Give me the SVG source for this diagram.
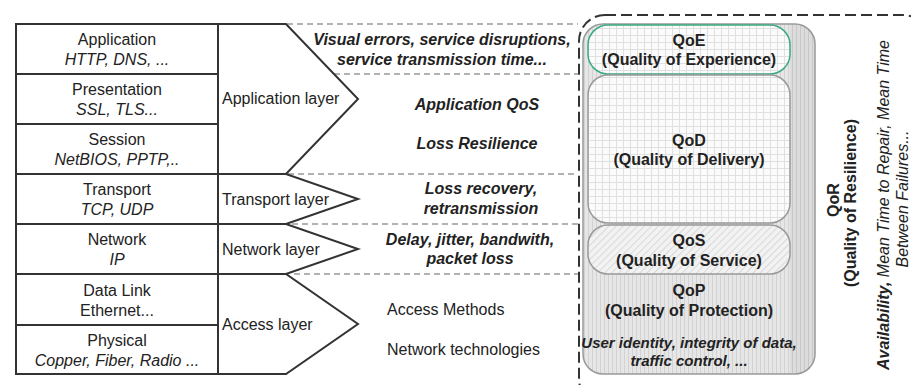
<svg xmlns="http://www.w3.org/2000/svg" width="911" height="385" viewBox="0 0 911 385">
<defs>
<pattern id="stripes" width="4" height="8" patternUnits="userSpaceOnUse">
<rect width="4" height="8" fill="#e6e6e6"/>
<line x1="0.5" y1="0" x2="0.5" y2="8" stroke="#d2d2d2" stroke-width="1"/>
</pattern>
<pattern id="stripes2" width="4" height="8" patternUnits="userSpaceOnUse">
<rect width="4" height="8" fill="#dcdcdc"/>
<line x1="0.5" y1="0" x2="0.5" y2="8" stroke="#c8c8c8" stroke-width="1"/>
</pattern>
<pattern id="grid" width="7" height="7" patternUnits="userSpaceOnUse">
<rect width="7" height="7" fill="#fbfbfb"/>
<path d="M0 0.5H7M0.5 0V7" stroke="#e0e0e0" stroke-width="1" fill="none"/>
</pattern>
<pattern id="hatch" width="5" height="5" patternUnits="userSpaceOnUse" patternTransform="rotate(45)">
<rect width="5" height="5" fill="#f2f2f2"/>
<line x1="0" y1="0" x2="0" y2="5" stroke="#c8c8c8" stroke-width="1.2"/>
</pattern>
<clipPath id="qopclip"><rect x="583" y="24" width="232" height="350" rx="20"/></clipPath>
</defs>
<style>
text{font-family:"Liberation Sans",Arial,sans-serif;font-size:16px;fill:#222}
.c{text-anchor:middle}
.i{font-style:italic}
.b{font-weight:bold}
.bi{font-weight:bold;font-style:italic}
.s15{font-size:15px}
.cell{fill:#fff;stroke:#333;stroke-width:2}
.chev{fill:#fff;stroke:#333;stroke-width:2;stroke-linejoin:miter}
.dash{stroke:#999;stroke-width:1.5;stroke-dasharray:6 4;fill:none}
.box{stroke:#999;stroke-width:1.5}
</style>

<g id="osi-table">
<rect class="cell" x="16" y="24" width="202" height="350"/>
<g id="row-application"><text class="c" x="117" y="45">Application</text><text class="c i" x="117" y="65">HTTP, DNS, ...</text></g>
<g id="row-presentation"><line x1="16" y1="74" x2="218" y2="74" stroke="#333" stroke-width="2"/><text class="c" x="117" y="95">Presentation</text><text class="c i" x="117" y="115">SSL, TLS...</text></g>
<g id="row-session"><line x1="16" y1="124" x2="218" y2="124" stroke="#333" stroke-width="2"/><text class="c" x="117" y="145">Session</text><text class="c i" x="117" y="165">NetBIOS, PPTP,..</text></g>
<g id="row-transport"><line x1="16" y1="174" x2="218" y2="174" stroke="#333" stroke-width="2"/><text class="c" x="117" y="195">Transport</text><text class="c i" x="117" y="215">TCP, UDP</text></g>
<g id="row-network"><line x1="16" y1="224" x2="218" y2="224" stroke="#333" stroke-width="2"/><text class="c" x="117" y="245">Network</text><text class="c i" x="117" y="265">IP</text></g>
<g id="row-datalink"><line x1="16" y1="274" x2="218" y2="274" stroke="#333" stroke-width="2"/><text class="c" x="117" y="296">Data Link</text><text class="c" x="117" y="316">Ethernet...</text></g>
<g id="row-physical"><line x1="16" y1="325" x2="218" y2="325" stroke="#333" stroke-width="2"/><text class="c" x="117" y="346">Physical</text><text class="c i" x="117" y="366">Copper, Fiber, Radio ...</text></g>
</g>

<g id="qor-frame">
<rect x="579" y="15" width="350" height="390" rx="26" fill="none" stroke="#333" stroke-width="2" stroke-dasharray="11 5"/>
</g>

<g id="connectors">
<line class="dash" x1="287" y1="24" x2="578" y2="24"/>
<line class="dash" x1="334" y1="74" x2="578" y2="74"/>
<line class="dash" x1="288" y1="174" x2="578" y2="174"/>
<line class="dash" x1="292" y1="224" x2="578" y2="224"/>
<line class="dash" x1="294" y1="274" x2="578" y2="274"/>
</g>

<g id="layer-application">
<path class="chev" d="M218 24H286L358 99L286 174H218Z"/>
<text x="222" y="104">Application layer</text>
</g>
<g id="layer-transport">
<path class="chev" d="M218 174H286L358 199L286 224H218Z"/>
<text x="222" y="205">Transport layer</text>
</g>
<g id="layer-network">
<path class="chev" d="M218 224H286L358 249L286 274H218Z"/>
<text x="222" y="255">Network layer</text>
</g>
<g id="layer-access">
<path class="chev" d="M218 274H286L358 324L286 374H218Z"/>
<text x="222" y="330">Access layer</text>
</g>

<g id="metrics">
<text class="c bi" x="442" y="45">Visual errors, service disruptions,</text>
<text class="c bi" x="442" y="65">service transmission time...</text>
<text class="c bi" x="477" y="110">Application QoS</text>
<text class="c bi" x="477" y="149">Loss Resilience</text>
<text class="c bi" x="481" y="194">Loss recovery,</text>
<text class="c bi" x="481" y="214">retransmission</text>
<text class="c bi" x="470" y="245">Delay, jitter, bandwith,</text>
<text class="c bi" x="470" y="264">packet loss</text>
<text x="387" y="315">Access Methods</text>
<text x="387" y="355">Network technologies</text>
</g>

<g id="qop">
<rect x="583" y="24" width="232" height="350" rx="20" fill="url(#stripes)"/>
<rect x="790" y="24" width="30" height="350" fill="url(#stripes2)" clip-path="url(#qopclip)"/>
<rect class="box" x="583" y="24" width="232" height="350" rx="20" fill="none"/>
<text class="c b" x="689" y="296">QoP</text>
<text class="c b" x="689" y="316">(Quality of Protection)</text>
<text class="c bi s15" x="689" y="348">User identity, integrity of data,</text>
<text class="c bi s15" x="689" y="366">traffic control, ...</text>
</g>
<g id="qoe">
<rect x="588" y="25" width="202" height="49" rx="20" fill="url(#grid)" stroke="#3aaa80" stroke-width="1.5"/>
<text class="c b" x="689" y="46">QoE</text>
<text class="c b" x="689" y="65">(Quality of Experience)</text>
</g>
<g id="qod">
<rect class="box" x="588" y="75" width="202" height="148" rx="20" fill="url(#grid)"/>
<text class="c b" x="689" y="146">QoD</text>
<text class="c b" x="689" y="165">(Quality of Delivery)</text>
</g>
<g id="qos">
<rect class="box" x="588" y="225" width="202" height="49" rx="20" fill="url(#hatch)"/>
<text class="c b" x="689" y="246">QoS</text>
<text class="c b" x="689" y="266">(Quality of Service)</text>
</g>

<g id="qor">
<text class="c b" transform="translate(839 200) rotate(-90)">QoR</text>
<text class="c b" transform="translate(856 203) rotate(-90)">(Quality of Resilience)</text>
<text class="c i" transform="translate(889 205) rotate(-90)"><tspan class="bi">Availability,</tspan> Mean Time to Repair, Mean Time</text>
<text class="c i" transform="translate(908 199) rotate(-90)">Between Failures...</text>
</g>
</svg>
